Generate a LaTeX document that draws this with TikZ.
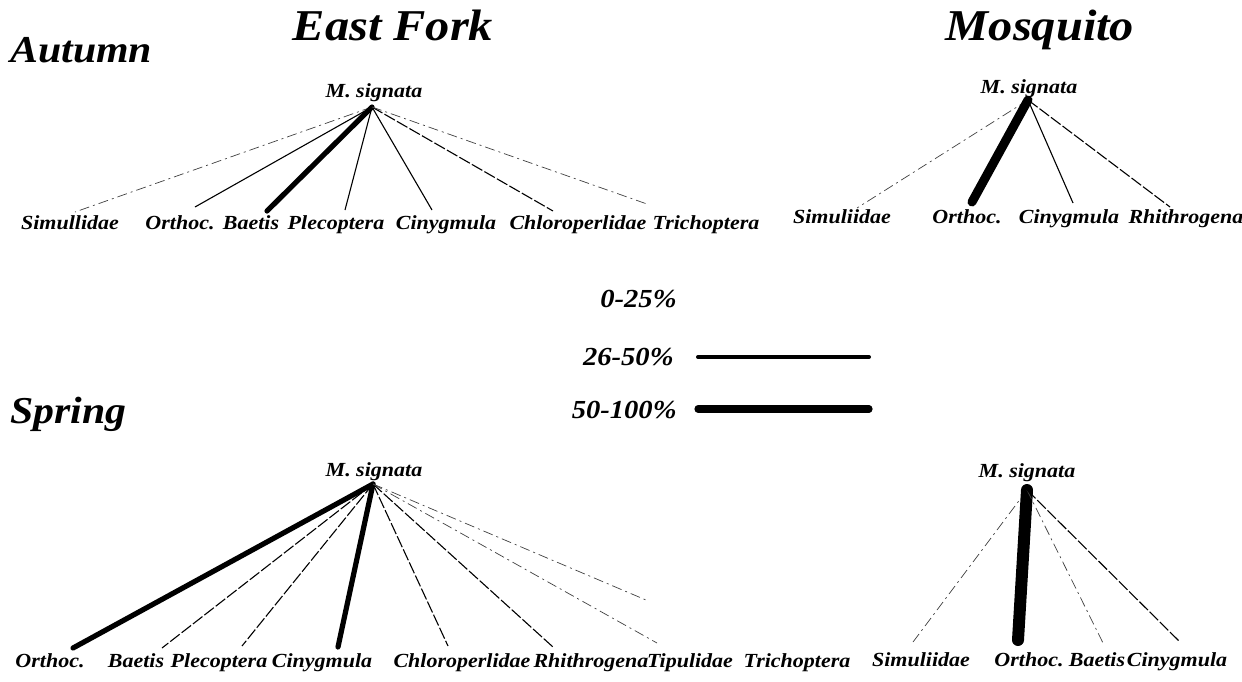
\documentclass[tikz,border=0pt]{standalone}
\usepackage{fontspec}
\setmainfont{Liberation Serif}[FakeStretch=1.1]

\begin{document}
\begin{tikzpicture}[x=0.5pt,y=-0.5pt,
  taxon/.style={font=\fontsize{10}{12}\selectfont\bfseries\itshape,inner sep=0pt,anchor=base},
  site/.style={font=\fontsize{22}{26}\selectfont\bfseries\itshape,inner sep=0pt,anchor=base},
  season/.style={font=\fontsize{19}{22}\selectfont\bfseries\itshape,inner sep=0pt,anchor=base west},
  pct/.style={font=\fontsize{13}{15}\selectfont\bfseries\itshape,inner sep=0pt,anchor=base east},
  faint/.style={line width=0.35pt,black!75,dash pattern=on 5pt off 2pt on 1pt off 2pt},
  fine/.style={line width=0.55pt},
  finedash/.style={line width=0.55pt,dash pattern=on 6pt off 1.2pt},
  mid/.style={line width=2.6pt,line cap=round},
  heavy/.style={line width=4.5pt,line cap=round},
  heavier/.style={line width=6pt,line cap=round}]
  \useasboundingbox (0,0) rectangle (1242,681);

  % headings
  \node[site] (ef) at (393,40) {East Fork};
  \node[site] (mq) at (1040,40) {Mosquito};
  \node[season] (aut) at (10,62) {Autumn};
  \node[season] (spr) at (10,423) {Spring};

  % autumn, East Fork
  \node[taxon] (ea-top) at (374,97) {M. signata};
  \coordinate (ea-hub) at (372,107);
  \foreach \n/\x/\t/\ex/\ey/\s in {sim/70/Simullidae/75/212/faint,
      ort/180/Orthoc./195/207/fine, bae/251/Baetis/267/211/mid,
      ple/336/Plecoptera/345/210/fine, cin/446/Cinygmula/432/210/fine,
      chl/578/Chloroperlidae/553/211/finedash, tri/706/Trichoptera/647/204/faint} {
    \node[taxon] (ea-\n) at (\x,229) {\t};
    \coordinate (ea-\n-e) at (\ex,\ey);
    \draw[\s] (ea-hub) -- (ea-\n-e);
  }

  % autumn, Mosquito
  \node[taxon] (ma-top) at (1029,93) {M. signata};
  \coordinate (ma-hub) at (1028,100);
  \foreach \n/\x/\t/\ex/\ey/\s in {sim/842/Simuliidae/857/208/faint,
      ort/967/Orthoc./972/202/heavy, cin/1069/Cinygmula/1073/203/fine,
      rhi/1186/Rhithrogena/1170/207/finedash} {
    \node[taxon] (ma-\n) at (\x,223) {\t};
    \coordinate (ma-\n-e) at (\ex,\ey);
    \draw[\s] (ma-hub) -- (ma-\n-e);
  }

  % legend
  \node[pct] (p1) at (677,307) {0-25\%};
  \node[pct] (p2) at (674,365) {26-50\%};
  \node[pct] (p3) at (677,418) {50-100\%};
  \coordinate (l2a) at (698,357); \coordinate (l2b) at (869,357);
  \coordinate (l3a) at (698,409); \coordinate (l3b) at (869,409);
  \draw[line width=2pt,line cap=round] (l2a) -- (l2b);
  \draw[line width=3.6pt,line cap=round] (l3a) -- (l3b);

  % spring, East Fork
  \node[taxon] (es-top) at (374,476) {M. signata};
  \coordinate (es-hub) at (373,484);
  \foreach \n/\x/\t/\ex/\ey/\s in {ort/50/Orthoc./73/648/mid,
      bae/136/Baetis/162/648/finedash, ple/219/Plecoptera/242/646/finedash,
      cin/322/Cinygmula/338/647/mid, chl/462/Chloroperlidae/448/646/finedash,
      rhi/591/Rhithrogena/553/647/finedash, tip/690/Tipulidae/657/643/faint,
      tri/797/Trichoptera/646/600/faint} {
    \node[taxon] (es-\n) at (\x,667) {\t};
    \coordinate (es-\n-e) at (\ex,\ey);
    \draw[\s] (es-hub) -- (es-\n-e);
  }

  % spring, Mosquito
  \node[taxon] (ms-top) at (1027,477) {M. signata};
  \coordinate (ms-hub) at (1027,490);
  \foreach \n/\x/\t/\ex/\ey/\s in {sim/921/Simuliidae/913/642/faint,
      ort/1029/Orthoc./1018/640/heavier, bae/1097/Baetis/1103/643/faint,
      cin/1177/Cinygmula/1180/642/finedash} {
    \node[taxon] (ms-\n) at (\x,666) {\t};
    \coordinate (ms-\n-e) at (\ex,\ey);
    \draw[\s] (ms-hub) -- (ms-\n-e);
  }
\end{tikzpicture}
\end{document}
